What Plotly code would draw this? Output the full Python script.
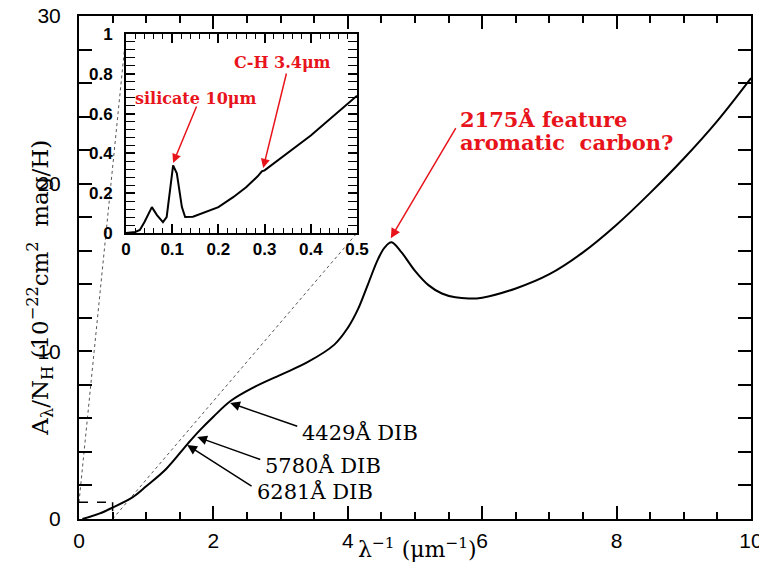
import plotly.graph_objects as go

# ---------------- data ----------------
# main extinction curve (x = 1/lambda in um^-1, y = A_lambda/N_H in 1e-22 cm^2 mag/H)
main_x = [0.05, 0.3, 0.5, 0.8, 1.0, 1.3, 1.62, 1.8, 2.0, 2.26, 2.6, 3.0, 3.4, 3.8,
          4.0, 4.15, 4.3, 4.45, 4.55, 4.65, 4.8, 5.0, 5.2, 5.4, 5.6, 5.8, 6.0, 6.5, 7.0,
          7.5, 8.0, 8.5, 9.0, 9.5, 10.0]
main_y = [0.0, 0.32, 0.68, 1.3, 1.95, 3.0, 4.5, 5.3, 6.1, 7.05, 7.85, 8.6, 9.35, 10.4,
          11.4, 12.5, 14.0, 15.5, 16.2, 16.5, 15.9, 14.8, 13.95, 13.45, 13.22, 13.15, 13.2,
          13.75, 14.6, 15.9, 17.55, 19.45, 21.5, 23.75, 26.3]

# inset (IR part)
inset_x = [0.0, 0.02, 0.03, 0.04, 0.056, 0.067, 0.08, 0.088, 0.102, 0.11, 0.121, 0.128,
           0.145, 0.16, 0.2, 0.232, 0.26, 0.285, 0.294, 0.3, 0.4, 0.5]
inset_y = [0.0, 0.005, 0.015, 0.055, 0.13, 0.09, 0.055, 0.08, 0.34, 0.3, 0.13, 0.08,
           0.082, 0.095, 0.13, 0.18, 0.23, 0.285, 0.31, 0.315, 0.49, 0.69]

main_xticks = [0, 2, 4, 6, 8, 10]
main_yticks = [0, 10, 20, 30]
inset_xticks = [0, 0.1, 0.2, 0.3, 0.4, 0.5]
inset_yticks = [0, 0.2, 0.4, 0.6, 0.8, 1]

# DIB labels
dib_labels = ["4429Å DIB", "5780Å DIB", "6281Å DIB"]
dib_text_x = [3.29, 2.74, 2.62]
dib_text_y = [5.13, 3.22, 1.67]
dib_tip_x = [2.25, 1.76, 1.61]
dib_tip_y = [6.92, 4.89, 4.41]
dib_tail_x = [3.27, 2.72, 2.59]
dib_tail_y = [5.5, 3.52, 1.91]

# ---------------- geometry ----------------
# page body has an 8px margin: the figure is shifted by 8px right/down
W, H = 759, 558
ML, MR, MT, MB = 71, 16, 8, 47
XR = [0, 10]
YR = [0, 30]
PW, PH = W - ML - MR, H - MT - MB  # 672 x 503
OFF = 8
inset_dom_x = [(126 - OFF - ML) / PW, (357 - OFF - ML) / PW]
inset_dom_y = [(H - MB - (233 - OFF)) / PH, (H - MB - (34 - OFF)) / PH]

def paper_to_main(px, py):
    return XR[0] + px * (XR[1] - XR[0]), YR[0] + py * (YR[1] - YR[0])

fig = go.Figure()
fig.add_trace(go.Scatter(x=main_x, y=main_y, mode="lines", line=dict(color="black", width=2,
                         shape="spline", smoothing=1.0), xaxis="x", yaxis="y",
                         hoverinfo="skip", showlegend=False))
fig.add_trace(go.Scatter(x=inset_x, y=inset_y, mode="lines", line=dict(color="black", width=2),
                         xaxis="x2", yaxis="y2", hoverinfo="skip", showlegend=False))

serif = "DejaVu Serif"
sans = "Liberation Sans"

common = dict(tickcolor="black", showline=True, linecolor="black", mirror="allticks",
              showgrid=False, zeroline=False, automargin=False, ticks="inside",
              ticklabeloverflow="allow")
main_xminor = dict(dtick=0.5, tick0=0, ticks="inside", ticklen=7, tickwidth=1.5,
                   tickcolor="black", showgrid=False)
inset_xminor = dict(dtick=0.02, tick0=0, ticks="inside", ticklen=5, tickwidth=1.2,
                    tickcolor="black", showgrid=False)

fig.update_layout(
    template="none",
    width=W, height=H,
    margin=dict(l=ML, r=MR, t=MT, b=MB, autoexpand=False),
    paper_bgcolor="white", plot_bgcolor="white",
    showlegend=False,
    xaxis=dict(domain=[0, 1], range=XR, tickvals=main_xticks, ticklen=13, tickwidth=1.5,
               linewidth=2, anchor="y", minor=main_xminor,
               tickfont=dict(family=sans, size=21, color="black"), ticklabelstandoff=2, **common),
    yaxis=dict(domain=[0, 1], range=YR, tickvals=main_yticks, ticklen=13, tickwidth=1.5,
               linewidth=2, anchor="x",
               minor=dict(dtick=2, tick0=0, ticks="inside", ticklen=7, tickwidth=1.5,
                          tickcolor="black", showgrid=False),
               tickfont=dict(family=sans, size=21, color="black"), ticklabelstandoff=12, **common),
    xaxis3=dict(overlaying="x", side="top", range=XR, tickvals=main_xticks, ticks="inside",
                ticklen=13, tickwidth=1.5, tickcolor="black", showticklabels=False,
                showgrid=False, zeroline=False, showline=False, minor=main_xminor,
                automargin=False),
    xaxis2=dict(domain=inset_dom_x, range=[0, 0.5], anchor="y2", tickvals=inset_xticks,
                ticktext=["0", "0.1", "0.2", "0.3", "0.4", "0.5"],
                ticklen=9, tickwidth=1.5, linewidth=2, minor=inset_xminor,
                tickfont=dict(family=sans, size=17, color="black", weight="bold"),
                ticklabelstandoff=0, **common),
    yaxis2=dict(domain=inset_dom_y, range=[0, 1], anchor="x2", tickvals=inset_yticks,
                ticktext=["0", "0.2", "0.4", "0.6", "0.8", "1"],
                ticklen=9, tickwidth=1.5, linewidth=2,
                minor=dict(dtick=0.04, tick0=0, ticks="inside", ticklen=5, tickwidth=1.2,
                           tickcolor="black", showgrid=False),
                tickfont=dict(family=sans, size=17, color="black", weight="bold"),
                ticklabelstandoff=8, **common),
    xaxis4=dict(overlaying="x2", side="top", anchor="y2", range=[0, 0.5], tickvals=inset_xticks,
                ticks="inside", ticklen=9, tickwidth=1.5, tickcolor="black",
                showticklabels=False, showgrid=False, zeroline=False, showline=False,
                minor=inset_xminor, automargin=False),
)
# invisible traces to activate the overlay (top) axes
fig.add_trace(go.Scatter(x=[XR[0]], y=[YR[0]], mode="markers", marker=dict(opacity=0),
                         xaxis="x3", yaxis="y", hoverinfo="skip", showlegend=False))
fig.add_trace(go.Scatter(x=[0], y=[0], mode="markers", marker=dict(opacity=0),
                         xaxis="x4", yaxis="y2", hoverinfo="skip", showlegend=False))

# dashed zoom box and dotted connectors (main data coordinates)
tl = paper_to_main(inset_dom_x[0], inset_dom_y[1])
br = paper_to_main(inset_dom_x[1], inset_dom_y[0])
fig.add_shape(type="line", xref="x", yref="y", x0=0, y0=1, x1=0.5, y1=1,
              line=dict(color="black", width=1.5, dash="dash"))
fig.add_shape(type="line", xref="x", yref="y", x0=0.5, y0=1, x1=0.5, y1=0,
              line=dict(color="black", width=1.5, dash="dash"))
fig.add_shape(type="line", xref="x", yref="y", x0=0, y0=1, x1=tl[0], y1=tl[1],
              line=dict(color="#555555", width=1, dash="dot"), layer="below")
fig.add_shape(type="line", xref="x", yref="y", x0=0.5, y0=0, x1=br[0], y1=br[1],
              line=dict(color="#555555", width=1, dash="dot"), layer="below")

red = "#e8141c"
ann = []
# 2175 feature
ann.append(dict(x=5.64, y=23.8, xref="x", yref="y", text="2175Å feature", showarrow=False,
                xanchor="left", yanchor="middle", font=dict(family=serif, size=21, color=red, weight="bold")))
ann.append(dict(x=5.64, y=22.45, xref="x", yref="y", text="aromatic\u00a0\u00a0carbon?", showarrow=False,
                xanchor="left", yanchor="middle", font=dict(family=serif, size=21, color=red, weight="bold")))
ann.append(dict(x=4.64, y=16.75, xref="x", yref="y", ax=5.62, ay=23.4, axref="x", ayref="y",
                text="", showarrow=True, arrowhead=2, arrowsize=1.3, arrowwidth=1.5, arrowcolor=red))
# inset labels
ann.append(dict(x=0.015, y=0.678, xref="x2", yref="y2", text="silicate 10μm", showarrow=False,
                xanchor="left", yanchor="middle", font=dict(family=serif, size=16, color=red, weight="bold")))
ann.append(dict(x=0.102, y=0.352, xref="x2", yref="y2", ax=0.154, ay=0.643, axref="x2", ayref="y2",
                text="", showarrow=True, arrowhead=2, arrowsize=1.2, arrowwidth=1.5, arrowcolor=red))
ann.append(dict(x=0.23, y=0.859, xref="x2", yref="y2", text="C-H 3.4μm", showarrow=False,
                xanchor="left", yanchor="middle", font=dict(family=serif, size=16, color=red, weight="bold")))
ann.append(dict(x=0.297, y=0.327, xref="x2", yref="y2", ax=0.348, ay=0.809, axref="x2", ayref="y2",
                text="", showarrow=True, arrowhead=2, arrowsize=1.2, arrowwidth=1.5, arrowcolor=red))
# DIBs
for t, tx, ty, hx, hy, sx, sy in zip(dib_labels, dib_text_x, dib_text_y, dib_tip_x, dib_tip_y,
                                      dib_tail_x, dib_tail_y):
    ann.append(dict(x=tx, y=ty, xref="x", yref="y", text=t, showarrow=False, xanchor="left",
                    yanchor="middle", font=dict(family=serif, size=21, color="black")))
    ann.append(dict(x=hx, y=hy, xref="x", yref="y", ax=sx, ay=sy, axref="x", ayref="y", text="",
                    showarrow=True, arrowhead=2, arrowsize=1.3, arrowwidth=1.5, arrowcolor="black"))
# axis titles
ann.append(dict(x=-0.058, y=0.46, xref="paper", yref="paper", textangle=-90,
                text="A<sub>λ</sub>/N<sub>H</sub>\u00a0(10<sup>−22</sup>cm<sup>2</sup>\u00a0\u00a0mag/H)",
                showarrow=False, xanchor="center", yanchor="middle",
                font=dict(family=serif, size=23, color="black")))
ann.append(dict(x=0.503, y=-0.058, xref="paper", yref="paper",
                text="λ<sup>−1</sup> (μm<sup>−1</sup>)", showarrow=False,
                xanchor="center", yanchor="middle", font=dict(family=serif, size=22, color="black")))
fig.update_layout(annotations=ann)

fig.write_html("out.html")
